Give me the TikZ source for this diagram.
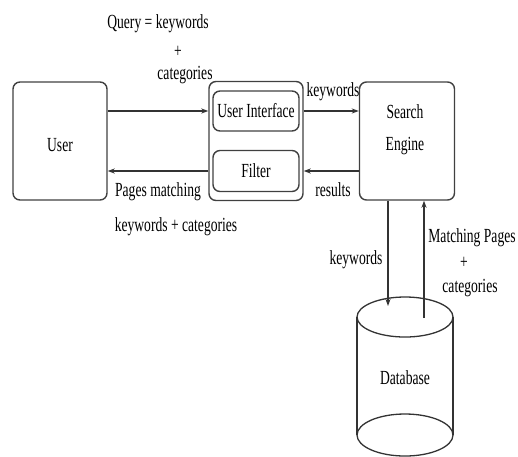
\documentclass[tikz,border=0pt]{standalone}
\usepackage{fontspec}
\setmainfont{Liberation Serif}[FakeStretch=0.68]
\usetikzlibrary{arrows.meta}

\begin{document}
\begin{tikzpicture}[x=1pt,y=-1pt,
  every node/.style={font=\fontsize{20}{22}\selectfont,inner sep=0pt},
  box/.style={draw=black!75,line width=1.4pt,rounded corners=7pt},
  >={Stealth[length=7pt,width=5pt]},
  line/.style={draw=black!80,line width=1.3pt}]
 \useasboundingbox (0,0) rectangle (518,456);
 \node[box,minimum width=94pt,minimum height=118pt] (user) at (60,141) {};
 \node (userlbl) at (60,145) {User};
 \node[box,minimum width=94pt,minimum height=119pt] (outer) at (256,141) {};
 \node[box,minimum width=86pt,minimum height=40pt] (ui) at (256,111) {User Interface};
 \node[box,minimum width=86pt,minimum height=41pt] (filter) at (256,171) {Filter};
 \node[box,minimum width=95pt,minimum height=118pt] (engine) at (407,141) {};
 \node (enginelbl) at (405,130) {\begin{tabular}{@{}c@{}}Search\\[10pt]Engine\end{tabular}};

 % database
 \draw[line] (405,317) ellipse [x radius=48pt,y radius=20pt];
 \draw[line] (357,317) -- (357,435) (453,317) -- (453,435);
 \draw[line] (405,435) ellipse [x radius=48pt,y radius=21pt];
 \node (db) at (405,378) {Database};
 \coordinate (kwend) at (388,306);
 \coordinate (mpstart) at (424,318);

 \node (q1) at (158,24) {Query = keywords};
 \node (q2) at (178,52) {+};
 \node (q3) at (185,75) {categories};
 \node (kw1) at (333,92) {keywords};
 \node (res) at (333,190) {results};
 \node (pm1) at (158,192) {Pages matching};
 \node (pm2) at (176,227) {keywords + categories};
 \node (kw2) at (356,260) {keywords};
 \node (mp1) at (472,238) {Matching Pages};
 \node (mp2) at (464,263) {+};
 \node (mp3) at (470,288) {categories};

 \draw[line,->] (user.east |- ui) -- (outer.west |- ui);
 \draw[line,->] (outer.east |- ui) -- (engine.west |- ui);
 \draw[line,->] (engine.west |- filter) -- (outer.east |- filter);
 \draw[line,->] (outer.west |- filter) -- (user.east |- filter);
 \draw[line,->] (engine.south -| kwend) -- (kwend);
 \draw[line,->] (mpstart) -- (mpstart |- engine.south);
\end{tikzpicture}
\end{document}
